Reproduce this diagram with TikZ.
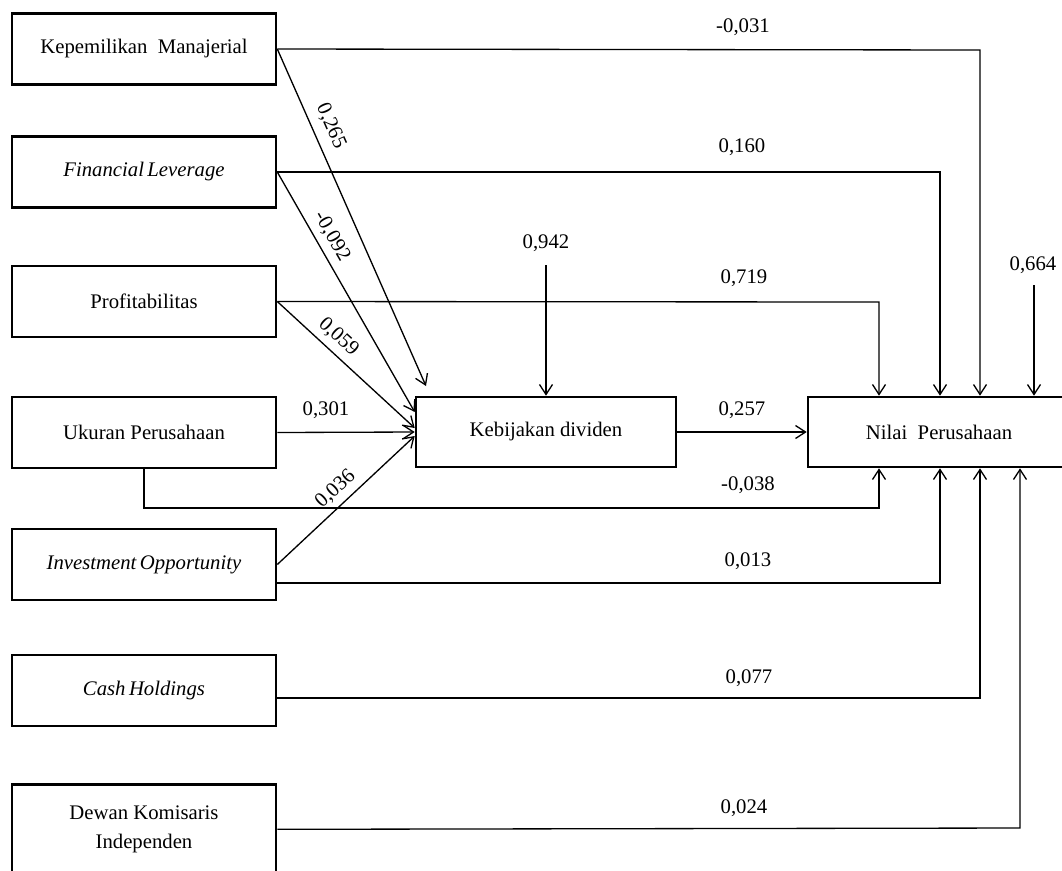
\documentclass[tikz,border=0pt]{standalone}
\usepackage{fontspec}
\setmainfont{Liberation Serif}
\usetikzlibrary{arrows.meta,positioning,calc}

\begin{document}
\begin{tikzpicture}[x=0.02cm,y=-0.02cm,
	font=\fontsize{11.8}{16}\selectfont,
	varbox/.style={draw,line width=1.5pt,minimum width=5.28cm,minimum height=1.42cm,align=center,inner sep=2pt},
	conn/.style={line width=0.75pt},
	arr/.style={conn,-{Straight Barb[length=2mm,width=2.6mm]}},
	coef/.style={inner sep=3.5pt}]
	\clip (0,0) rectangle (1062,870);
	
	\node[varbox] (kep) at (144,49) {Kepemilikan\ \ Manajerial};
	\node[varbox] (fin) at (144,172) {\textit{Financial\,Leverage}};
	\node[varbox] (prof) at (144,301.5) {Profitabilitas};
	\node[varbox] (uk) at (144,432.5) {Ukuran Perusahaan};
	\node[varbox] (inv) at (144,564.5) {\textit{Investment\,Opportunity}};
	\node[varbox] (cash) at (144,690.5) {\textit{Cash\,Holdings}};
	\node[varbox,minimum height=1.8cm,anchor=north] (dewan) at (144,783) {Dewan Komisaris\\Independen};
	
	\node[varbox,minimum width=5.2cm,minimum height=1.4cm] (keb) at (546,432) {Kebijakan dividen};
	\node[varbox,minimum width=5.24cm,minimum height=1.4cm] (nilai) at (939,432) {Nilai\ \ Perusahaan};
	
	\coordinate (t265) at (426,386);
	\coordinate (e942) at (546,265);
	\coordinate (e664) at (1034,285);
	\coordinate (b031) at (980,50);
	\coordinate (b160) at (940,172);
	\coordinate (b719) at (879,302);
	\coordinate (b038) at (879,508);
	\coordinate (b013) at (940,583);
	\coordinate (b077) at (980,698);
	\coordinate (b024) at (1020,828);
	
	\draw[arr] (kep.east) -- node[coef,sloped,above,pos=0.25,inner sep=5pt] {0,265} (t265);
	\draw[arr] (fin.east) -- node[coef,sloped,above,pos=0.3] {-0,092} ($(keb.west)+(0,-20)$);
	\draw[arr] (prof.east) -- node[coef,sloped,above,pos=0.37] {0,059} ($(keb.west)+(0,-4)$);
	\draw[arr] (uk.east) -- (keb.west);
	\draw[arr] (inv.east) -- node[coef,sloped,above,pos=0.5] {0,036} ($(keb.west)+(0,4)$);
	\draw[arr] (e942) -- (keb.north);
	\draw[arr] (keb.east) -- (nilai.west);
	
	\draw[arr] (kep.east) -- (b031) -- (b031 |- nilai.north);
	\draw[arr] (fin.east) -- (b160) -- (b160 |- nilai.north);
	\draw[arr] (prof.east) -- (b719) -- (b719 |- nilai.north);
	\draw[arr] (e664) -- (e664 |- nilai.north);
	\draw[arr] (uk.south) -- (uk.south |- b038) -- (b038) -- (b038 |- nilai.south);
	\draw[arr] (inv.east |- b013) -- (b013) -- (b013 |- nilai.south);
	\draw[arr] (cash.east |- b077) -- (b077) -- (b077 |- nilai.south);
	\draw[arr] (dewan.east) -- (b024) -- (b024 |- nilai.south);
	
	\node at (743,27) {-0,031};
	\node at (742,147) {0,160};
	\node at (744,278) {0,719};
	\node at (546,243) {0,942};
	\node at (1033,265) {0,664};
	\node at (326,410) {0,301};
	\node at (742,410) {0,257};
	\node at (748,485) {-0,038};
	\node at (748,561) {0,013};
	\node at (749,678) {0,077};
	\node at (744,808) {0,024};
\end{tikzpicture}
\end{document}
